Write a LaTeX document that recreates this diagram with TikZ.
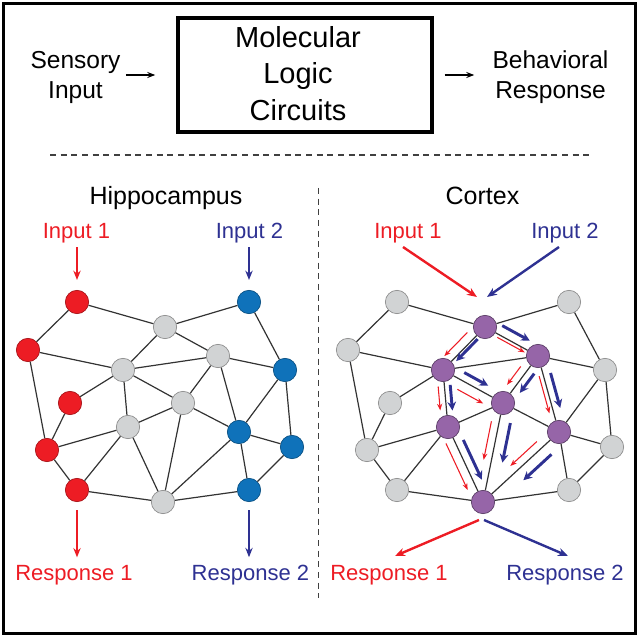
\documentclass[tikz,border=0pt]{standalone}
\usepackage{fontspec}
\setmainfont{Liberation Sans}
\usetikzlibrary{arrows.meta,calc}
\definecolor{cred}{HTML}{ED1C24}
\definecolor{cblue}{HTML}{2E3192}
\definecolor{nblue}{HTML}{0F72BA}
\definecolor{ngray}{HTML}{D1D3D4}
\definecolor{npurple}{HTML}{9665A8}
\definecolor{edgec}{HTML}{333333}
\begin{document}
\begin{tikzpicture}[x=0.75pt,y=-0.75pt,
  nd/.style={circle,minimum size=17.5pt,inner sep=0pt,line width=0.5pt},
  rn/.style={nd,fill=cred,draw=cred!70!black},
  bn/.style={nd,fill=nblue,draw=nblue!70!black},
  gn/.style={nd,fill=ngray,draw=black!45},
  pn/.style={nd,fill=npurple,draw=npurple!60!black},
  edgeline/.style={draw=edgec,line width=0.9pt},
  sidelbl/.style={inner sep=0pt,align=center,font=\fontsize{18.4}{22.5}\selectfont},
  mainlbl/.style={inner sep=0pt,align=center,font=\fontsize{21.75}{27.4}\selectfont},
  titlelbl/.style={inner sep=0pt,anchor=base,font=\fontsize{18.75}{22}\selectfont},
  iolbl/.style={inner sep=0pt,anchor=base,font=\fontsize{16.5}{19}\selectfont},
  boxnode/.style={draw,line width=2.6pt,minimum width=190.5pt,minimum height=85.5pt,inner sep=0pt},
  blackarrow/.style={line width=1.4pt,-{Stealth[length=6pt,width=4.5pt]}},
  ioarrow/.style={line width=1.5pt,-{Stealth[length=7pt,width=5.5pt]}},
  cioarrow/.style={line width=1.8pt,-{Stealth[length=7.5pt,width=6pt]}},
  redflow/.style={draw=cred,line width=0.8pt,-{Stealth[length=5pt,width=3.8pt]}},
  blueflow/.style={draw=cblue,line width=2.2pt,-{Stealth[length=6.5pt,width=6.5pt]}},
  dashline/.style={draw=black!75,line width=0.9pt,dash pattern=on 4.5pt off 3.5pt}
]
\useasboundingbox (0,0) rectangle (640,638);
\draw[line width=1.9pt] (3.5,3.5) rectangle (635.5,633.5);

% top row
\node[boxnode] (box) at (305,75) {};
\node[mainlbl] (mlc) at (298,73.5) {Molecular\\Logic\\Circuits};
\node[sidelbl] (sens) at (75.5,77) {Sensory\\Input};
\node[sidelbl] (beh) at (550.5,77) {Behavioral\\Response};
\draw[blackarrow,shorten <=3.75pt,shorten >=15.75pt] (sens.east |- box.west) -- (box.west);
\draw[blackarrow,shorten <=8.25pt,shorten >=13.5pt] (box.east) -- (beh.west |- box.east);

% dashed separators
\coordinate (hl1) at (50,155);
\coordinate (hl2) at (590,155);
\coordinate (vl1) at (318.5,188);
\coordinate (vl2) at (318.5,598);
\draw[dashline] (hl1) -- (hl2);
\draw[dashline] (vl1) -- (vl2);

% titles
\node[titlelbl] (thip) at (166,205) {Hippocampus};
\node[titlelbl] (tcor) at (482.5,205) {Cortex};

% hippocampus nodes
\foreach \n/\x/\y/\s in {1/77/302/rn,2/165/327/gn,3/249/302/bn,4/28/350/rn,
  5/123/370/gn,6/218/356/gn,7/285/370/bn,8/70/403/rn,9/183/403/gn,
  10/128/427/gn,11/239/432/bn,12/47/450/rn,13/292/447/bn,14/77/490/rn,
  15/163/502/gn,16/249/490/bn}
  \node[\s] (h\n) at (\x,\y) {};
% cortex nodes
\foreach \n/\x/\y/\s in {1/397/302/gn,2/485/327/pn,3/569/302/gn,4/348/350/gn,
  5/443/370/pn,6/538/356/pn,7/605/370/gn,8/390/403/gn,9/503/403/pn,
  10/448/427/pn,11/559/432/pn,12/367/450/gn,13/612/447/gn,14/397/490/gn,
  15/483/502/pn,16/569/490/gn}
  \node[\s] (c\n) at (\x,\y) {};

\foreach \a/\b in {1/4,1/2,2/3,2/5,2/6,4/5,4/12,5/6,5/8,5/9,5/10,6/7,6/9,6/11,
  3/7,7/11,7/13,8/12,9/10,9/11,9/15,10/12,10/14,10/15,11/13,11/16,11/15,
  12/14,14/15,15/16,13/16}
  {\draw[edgeline] (h\a) -- (h\b);
   \draw[edgeline] (c\a) -- (c\b);}

% cortex flow arrows
\foreach \a/\b/\rs/\re/\rd/\bs/\be/\bd in {
  2/5/0.27/0.82/6.6pt/0.23/0.74/2.4pt,
  2/6/0.26/0.78/2.4pt/0.24/0.76/7.1pt,
  5/9/0.32/0.75/7.5pt/0.29/0.69/6pt,
  6/9/0.32/0.71/5.7pt/0.28/0.69/5.6pt,
  5/10/0.28/0.70/4.7pt/0.27/0.72/4.4pt,
  6/11/0.25/0.74/3.2pt/0.25/0.71/5.7pt,
  10/15/0.17/0.79/6.6pt/0.22/0.75/6.3pt,
  9/15/0.20/0.59/5.8pt/0.18/0.58/8.4pt,
  11/15/0.22/0.57/6pt/0.20/0.57/8.5pt}
{
  \draw[redflow] ($(c\a.center)!\rs!(c\b.center)!\rd!-90:(c\b.center)$) --
                 ($(c\a.center)!\re!(c\b.center)!\rd!-90:(c\b.center)$);
  \draw[blueflow] ($(c\a.center)!\bs!(c\b.center)!\bd!90:(c\b.center)$) --
                  ($(c\a.center)!\be!(c\b.center)!\bd!90:(c\b.center)$);
}

% hippocampus inputs / responses
\node[iolbl,text=cred] (hin1) at (76.5,238.3) {Input 1};
\node[iolbl,text=cblue] (hin2) at (249.5,238.3) {Input 2};
\node[iolbl,text=cred] (hre1) at (74,580) {Response 1};
\node[iolbl,text=cblue] (hre2) at (250.4,580) {Response 2};
\draw[ioarrow,cred,shorten <=3.2pt,shorten >=7.5pt] (h1 |- hin1.south) -- (h1);
\draw[ioarrow,cblue,shorten <=3.2pt,shorten >=7.5pt] (h3 |- hin2.south) -- (h3);
\draw[ioarrow,cred,shorten <=6.2pt,shorten >=5.4pt] (h14) -- (h14 |- hre1.north);
\draw[ioarrow,cblue,shorten <=6.2pt,shorten >=5.4pt] (h16) -- (h16 |- hre2.north);

% cortex inputs / responses
\node[iolbl,text=cred] (cin1) at (408,238.3) {Input 1};
\node[iolbl,text=cblue] (cin2) at (565,238.3) {Input 2};
\node[iolbl,text=cred] (cre1) at (389,580) {Response 1};
\node[iolbl,text=cblue] (cre2) at (565,580) {Response 2};
\coordinate (ci1s) at (403,247);
\coordinate (ci1e) at (477,297);
\coordinate (ci2s) at (559,247);
\coordinate (ci2e) at (487,297);
\coordinate (cr1s) at (479,520);
\coordinate (cr1e) at (395,556);
\coordinate (cr2s) at (484,520);
\coordinate (cr2e) at (568,556);
\draw[cioarrow,cred] (ci1s) -- (ci1e);
\draw[cioarrow,cblue] (ci2s) -- (ci2e);
\draw[cioarrow,cred] (cr1s) -- (cr1e);
\draw[cioarrow,cblue] (cr2s) -- (cr2e);
\end{tikzpicture}
\end{document}
